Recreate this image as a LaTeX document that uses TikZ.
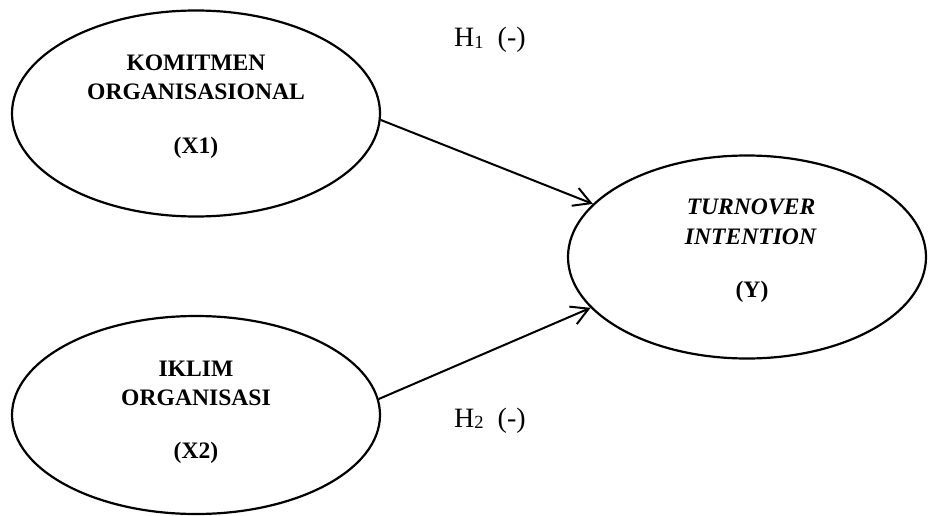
\documentclass[tikz,border=0pt]{standalone}
\usepackage{fontspec}
\setmainfont{Liberation Serif}
\usetikzlibrary{arrows.meta,shapes.geometric}
\newcommand{\hsub}[1]{\raisebox{-1.5pt}{\fontsize{18.5}{18.5}\selectfont #1}}
\begin{document}
\begin{tikzpicture}[x=1pt,y=-1pt,
  var/.style={draw,ellipse,line width=2.2pt,inner sep=0pt},
  lbl/.style={anchor=base,inner sep=0pt,font=\fontsize{23.6}{28}\selectfont\bfseries},
  ilbl/.style={lbl,font=\fontsize{23.6}{28}\selectfont\bfseries\itshape},
  hyp/.style={anchor=base west,inner sep=0pt,font=\fontsize{28}{32}\selectfont},
  link/.style={line width=2pt,-{Straight Barb[length=17pt,width=19pt,line width=2pt]}}]
\useasboundingbox (0,0) rectangle (928,516);
% ellipses
\node[var,minimum width=368pt,minimum height=206pt] (x1) at (196,113.5) {};
\node[var,minimum width=368pt,minimum height=198pt] (x2) at (196,415) {};
\node[var,minimum width=358pt,minimum height=203pt] (y) at (747,257) {};
% texts
\node[lbl] (x1a) at (196,71) {KOMITMEN};
\node[lbl] (x1b) at (196,100) {ORGANISASIONAL};
\node[lbl] (x1c) at (196,153) {(X1)};
\node[lbl] (x2a) at (196,376) {IKLIM};
\node[lbl] (x2b) at (196,405) {ORGANISASI};
\node[lbl] (x2c) at (196,458) {(X2)};
\node[ilbl] (ya) at (751,214) {TURNOVER};
\node[ilbl] (yb) at (750.5,244) {INTENTION};
\node[lbl] (yc) at (752,297) {(Y)};
\node[hyp] (h1) at (454,47) {H\hsub{1}\hspace{14pt}(-)};
\node[hyp] (h2) at (454,427) {H\hsub{2}\hspace{14pt}(-)};
% arrows
\draw[link] (x1.-2.8) -- (y.161.2);
\draw[link] (x2.5.9) -- (y.-162.4);
\end{tikzpicture}
\end{document}
